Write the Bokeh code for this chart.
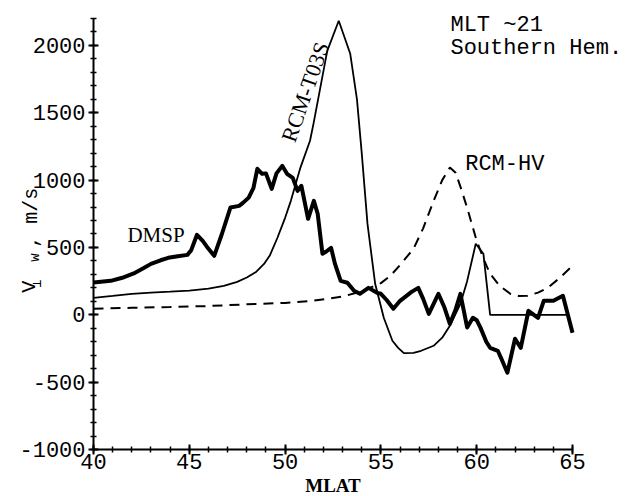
import math
from bokeh.plotting import figure
from bokeh.models import Range1d, FixedTicker, Label
from bokeh.embed import file_html
from bokeh.resources import INLINE

# ---- data ----
dmsp_x = [40.0, 40.9, 41.5, 42.1, 42.6, 43.0, 43.5, 43.9, 44.4, 44.9, 45.1, 45.4, 45.7, 46.0, 46.3,
          46.7, 47.15, 47.6, 47.8, 48.1, 48.35, 48.55, 48.8, 49.0, 49.3, 49.55, 49.85, 50.1, 50.4,
          50.65, 50.85, 51.2, 51.5, 51.7, 51.95, 52.15, 52.4, 52.6, 52.9, 53.25, 53.6, 53.9, 54.35,
          54.8, 55.0, 55.3, 55.65, 56.0, 56.2, 56.6, 56.95, 57.2, 57.5, 58.0, 58.3, 58.6, 58.9,
          59.15, 59.5, 59.8, 60.0, 60.2, 60.5, 60.7, 61.1, 61.3, 61.6, 62.0, 62.3, 62.7, 63.2,
          63.5, 64.0, 64.5, 65.0]
dmsp_y = [240, 252, 275, 307, 345, 378, 405, 423, 435, 445, 480, 594, 549, 490, 438,
          600, 797, 809, 831, 870, 943, 1084, 1047, 1050, 935, 1050, 1106, 1047, 1017,
          920, 958, 713, 846, 750, 453, 470, 497, 380, 252, 238, 178, 156, 200,
          163, 156, 110, 45, 104, 126, 170, 200, 120, 7, 156, 60, -67, 40,
          156, -94, -22, -40, -97, -200, -245, -267, -330, -430, -178, -245, 30, -22,
          104, 104, 141, -134]

t03s_x = [40.0, 41.0, 42.0, 43.0, 44.0, 45.0, 46.0, 46.8, 47.5, 48.0, 48.5, 48.9, 49.2, 49.6,
          50.0, 50.3, 50.8, 51.3, 51.48, 52.2, 52.8, 53.4, 53.75, 54.0, 54.3, 54.7, 55.15,
          55.6, 55.9, 56.2, 56.7, 57.1, 57.75, 58.2, 58.6, 59.15, 59.5, 59.95, 60.35, 60.7, 64.8]
t03s_y = [126, 140, 155, 165, 172, 180, 195, 215, 245, 277, 320, 378, 440, 572,
          720, 846, 1093, 1292, 1418, 1960, 2183, 1938, 1600, 1200, 675, 230, -22,
          -193, -245, -285, -282, -267, -230, -170, -82, 82, 250, 527, 453, 0, 0]

hv_x = [40.0, 42.0, 44.0, 46.0, 48.0, 50.0, 51.5, 53.0, 54.0, 55.0, 55.5, 56.0, 56.7, 57.2,
        57.75, 58.2, 58.6, 58.9, 59.2, 59.5, 60.0, 60.4, 60.7, 61.2, 61.75, 62.2, 62.65,
        63.2, 63.7, 64.3, 65.0]
hv_y = [45, 52, 58, 65, 78, 88, 105, 135, 175, 235, 290, 370, 490, 640,
        846, 1000, 1093, 1054, 930, 795, 549, 400, 304, 215, 156, 140, 141,
        165, 200, 270, 364]

x_ticks = [40, 45, 50, 55, 60, 65]
x_minor = list(range(40, 66))
y_ticks = [-1000, -500, 0, 500, 1000, 1500, 2000]
y_tick_labels = ["-1000", "-500", "0", "500", "1000", "1500", "2000"]
y_minor = list(range(-1000, 2201, 100))

MONO = "Liberation Mono"
SERIF = "Liberation Serif"

p = figure(width=642, height=496, output_backend="svg", toolbar_location=None,
           x_range=Range1d(35.146, 68.653), y_range=Range1d(-1349.0, 2333.6),
           min_border_left=0, min_border_right=0, min_border_top=0, min_border_bottom=0)
p.grid.visible = False
p.outline_line_color = None

p.line(hv_x, hv_y, line_width=2, line_dash="10 7", color="black")
p.line(t03s_x, t03s_y, line_width=1.8, color="black")
p.line(dmsp_x, dmsp_y, line_width=4, color="black", line_join="round")

for ax in (p.xaxis[0], p.yaxis[0]):
    ax.axis_line_width = 2
    ax.major_tick_line_width = 2
    ax.minor_tick_line_width = 1.5
    ax.major_tick_in = 5
    ax.major_tick_out = 5
    ax.minor_tick_in = 3
    ax.minor_tick_out = 3
    ax.major_label_text_font = MONO
    ax.major_label_text_font_size = "22px"
    ax.major_label_text_color = "black"

p.xaxis.fixed_location = -1000
p.yaxis.fixed_location = 40
p.xaxis.bounds = (40, 65)
p.yaxis.bounds = (-1000, 2200)
p.xaxis.ticker = FixedTicker(ticks=x_ticks, minor_ticks=x_minor)
p.yaxis.ticker = FixedTicker(ticks=y_ticks, minor_ticks=y_minor)
p.yaxis.major_label_overrides = {t: s for t, s in zip(y_ticks, y_tick_labels)}
p.xaxis.major_label_standoff = 0
p.yaxis.major_label_standoff = 3

p.xaxis.axis_label = "MLAT"
p.xaxis.axis_label_text_font = SERIF
p.xaxis.axis_label_text_font_style = "bold"
p.xaxis.axis_label_text_font_size = "19px"
p.xaxis.axis_label_standoff = 2
p.xaxis.axis_label_text_color = "black"

def lab(x, y, t, font, size, angle=0.0, style="normal"):
    p.add_layout(Label(x=x, y=y, text=t, text_font=font, text_font_size=size,
                       text_font_style=style, angle=angle, text_color="black",
                       text_align="left", text_baseline="alphabetic"))

lab(58.63, 2150, "MLT ~21", MONO, "22px")
lab(58.63, 1980, "Southern Hem.", MONO, "22px")
lab(59.4, 1114, "RCM-HV", MONO, "22px")
lab(41.77, 590, "DMSP", SERIF, "21px")
lab(50.15, 1290, "RCM-T03S", SERIF, "22px", angle=math.radians(70.6))

# y axis label: V (perp, w subscript), m/s
lab(36.66, 163, "V", MONO, "20px", angle=math.pi / 2)
lab(37.05, 205, "\u22a5", "DejaVu Sans Mono", "13px", angle=math.pi / 2)
lab(36.95, 393, "w", MONO, "14px", angle=math.pi / 2)
lab(36.76, 497, ", m/s", MONO, "20px", angle=math.pi / 2)

open("out.html", "w").write(file_html(p, INLINE))
